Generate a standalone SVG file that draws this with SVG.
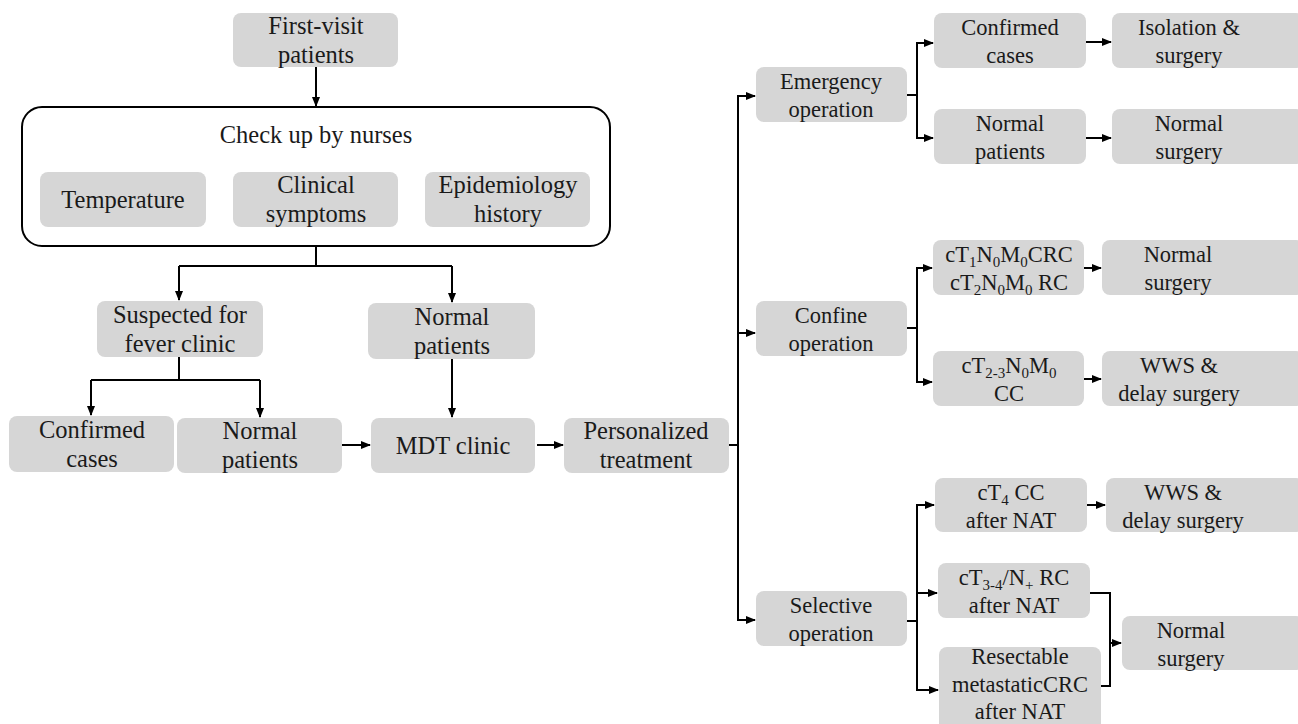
<svg xmlns="http://www.w3.org/2000/svg" width="1298" height="724" viewBox="0 0 1298 724">
<style>
.b{fill:#d6d6d6;stroke:none}
text{font-size:22.5px;fill:#1a1a1a;text-anchor:middle}
text.L{font-size:24.5px}
.s{font-size:15px}
.c{fill:none;stroke:#000;stroke-width:2}
</style>
<defs>
<marker id="a" markerUnits="userSpaceOnUse" markerWidth="10" markerHeight="10" viewBox="0 0 10 10" refX="9" refY="5" orient="auto">
<path d="M0,1 L10,5 L0,9 Z" fill="#000"/>
</marker>
</defs>
<rect width="1298" height="724" fill="#fff"/>
<g id="connectors">
<path class="c" d="M316,67 V106" marker-end="url(#a)"/>
<path class="c" d="M316,246 V266 M179,266 H452"/>
<path class="c" d="M179,266 V300" marker-end="url(#a)"/>
<path class="c" d="M452,266 V302" marker-end="url(#a)"/>
<path class="c" d="M179,357 V380 M91,380 H260"/>
<path class="c" d="M91,380 V415" marker-end="url(#a)"/>
<path class="c" d="M260,380 V417" marker-end="url(#a)"/>
<path class="c" d="M452,359 V417" marker-end="url(#a)"/>
<path class="c" d="M342,445 H370" marker-end="url(#a)"/>
<path class="c" d="M537,445 H563" marker-end="url(#a)"/>
<path class="c" d="M729,445 H738 M738,95 V621"/>
<path class="c" d="M737,96 H755" marker-end="url(#a)"/>
<path class="c" d="M737,333 H755" marker-end="url(#a)"/>
<path class="c" d="M737,620 H755" marker-end="url(#a)"/>
<path class="c" d="M907,95 H917 M917,42 V139"/>
<path class="c" d="M916,43 H933" marker-end="url(#a)"/>
<path class="c" d="M916,138 H933" marker-end="url(#a)"/>
<path class="c" d="M1086,42 H1111" marker-end="url(#a)"/>
<path class="c" d="M1086,138 H1111" marker-end="url(#a)"/>
<path class="c" d="M907,328 H917 M917,267 V383"/>
<path class="c" d="M916,268 H932" marker-end="url(#a)"/>
<path class="c" d="M916,382 H932" marker-end="url(#a)"/>
<path class="c" d="M1084,268 H1101" marker-end="url(#a)"/>
<path class="c" d="M1084,379 H1101" marker-end="url(#a)"/>
<path class="c" d="M907,621 H917 M917,504 V691"/>
<path class="c" d="M916,505 H934" marker-end="url(#a)"/>
<path class="c" d="M916,593 H937" marker-end="url(#a)"/>
<path class="c" d="M916,690 H938" marker-end="url(#a)"/>
<path class="c" d="M1087,505 H1105" marker-end="url(#a)"/>
<path class="c" d="M1090,593 H1110 V686 H1101"/>
<path class="c" d="M1110,643 H1121" marker-end="url(#a)"/>
</g>
<g id="nodes" style="font-family:'Times New Roman','Liberation Serif',serif">
<g id="first-visit"><rect class="b" x="233" y="13" width="165" height="54" rx="8"/><text class="L" x="316" y="33.5">First-visit</text><text class="L" x="316" y="62.5">patients</text></g>
<g id="checkup"><rect x="22" y="107" width="588" height="139" rx="20" fill="#fff" stroke="#000" stroke-width="2"/><text class="L" x="316" y="143">Check up by nurses</text></g>
<g id="temperature"><rect class="b" x="40" y="172" width="166" height="55" rx="8"/><text class="L" x="123" y="208">Temperature</text></g>
<g id="clinical"><rect class="b" x="233" y="172" width="165" height="55" rx="8"/><text class="L" x="316" y="193">Clinical</text><text class="L" x="316" y="222">symptoms</text></g>
<g id="epidemiology"><rect class="b" x="425" y="172" width="165" height="55" rx="8"/><text class="L" x="508" y="193">Epidemiology</text><text class="L" x="508" y="222">history</text></g>
<g id="suspected"><rect class="b" x="97" y="301" width="166" height="56" rx="8"/><text class="L" x="180" y="322.5">Suspected for</text><text class="L" x="180" y="351.5">fever clinic</text></g>
<g id="normal-mid"><rect class="b" x="368" y="303" width="167" height="56" rx="8"/><text class="L" x="452" y="324.5">Normal</text><text class="L" x="452" y="353.5">patients</text></g>
<g id="confirmed-left"><rect class="b" x="9" y="416" width="165" height="56" rx="8"/><text class="L" x="92" y="437.5">Confirmed</text><text class="L" x="92" y="466.5">cases</text></g>
<g id="normal-left"><rect class="b" x="177" y="418" width="165" height="55" rx="8"/><text class="L" x="260" y="439">Normal</text><text class="L" x="260" y="468">patients</text></g>
<g id="mdt"><rect class="b" x="371" y="418" width="164" height="55" rx="8"/><text class="L" x="453" y="454">MDT clinic</text></g>
<g id="personalized"><rect class="b" x="564" y="418" width="165" height="55" rx="8"/><text class="L" x="646" y="439">Personalized</text><text class="L" x="646" y="468">treatment</text></g>
<g id="emergency"><rect class="b" x="756" y="67" width="151" height="55" rx="8"/><text x="831" y="89">Emergency</text><text x="831" y="117">operation</text></g>
<g id="confirmed-right"><rect class="b" x="934" y="13" width="152" height="55" rx="8"/><text x="1010" y="35">Confirmed</text><text x="1010" y="63">cases</text></g>
<g id="normal-right"><rect class="b" x="934" y="109" width="152" height="55" rx="8"/><text x="1010" y="131">Normal</text><text x="1010" y="159">patients</text></g>
<g id="isolation"><rect class="b" x="1112" y="13" width="192" height="55" rx="8"/><text x="1189" y="35">Isolation &amp;</text><text x="1189" y="63">surgery</text></g>
<g id="normal-surgery-1"><rect class="b" x="1112" y="109" width="192" height="55" rx="8"/><text x="1189" y="131">Normal</text><text x="1189" y="159">surgery</text></g>
<g id="confine"><rect class="b" x="756" y="301" width="151" height="55" rx="8"/><text x="831" y="323">Confine</text><text x="831" y="351">operation</text></g>
<g id="ct1"><rect class="b" x="933" y="240" width="151" height="55" rx="8"/><text x="1009" y="262">cT<tspan class="s" dy="5">1</tspan><tspan dy="-5">N</tspan><tspan class="s" dy="5">0</tspan><tspan dy="-5">M</tspan><tspan class="s" dy="5">0</tspan><tspan dy="-5">CRC</tspan></text><text x="1009" y="290">cT<tspan class="s" dy="5">2</tspan><tspan dy="-5">N</tspan><tspan class="s" dy="5">0</tspan><tspan dy="-5">M</tspan><tspan class="s" dy="5">0</tspan><tspan dy="-5"> RC</tspan></text></g>
<g id="normal-surgery-2"><rect class="b" x="1102" y="240" width="202" height="55" rx="8"/><text x="1178" y="262">Normal</text><text x="1178" y="290">surgery</text></g>
<g id="ct23"><rect class="b" x="933" y="351" width="151" height="55" rx="8"/><text x="1009" y="373">cT<tspan class="s" dy="5">2-3</tspan><tspan dy="-5">N</tspan><tspan class="s" dy="5">0</tspan><tspan dy="-5">M</tspan><tspan class="s" dy="5">0</tspan></text><text x="1009" y="401">CC</text></g>
<g id="wws-1"><rect class="b" x="1102" y="351" width="202" height="55" rx="8"/><text x="1179" y="373">WWS &amp;</text><text x="1179" y="401">delay surgery</text></g>
<g id="selective"><rect class="b" x="756" y="591" width="151" height="55" rx="8"/><text x="831" y="613">Selective</text><text x="831" y="641">operation</text></g>
<g id="ct4"><rect class="b" x="935" y="478" width="152" height="54" rx="8"/><text x="1011" y="500">cT<tspan class="s" dy="5">4</tspan><tspan dy="-5"> CC</tspan></text><text x="1011" y="528">after NAT</text></g>
<g id="wws-2"><rect class="b" x="1106" y="478" width="198" height="54" rx="8"/><text x="1183" y="500">WWS &amp;</text><text x="1183" y="528">delay surgery</text></g>
<g id="ct34"><rect class="b" x="938" y="563" width="152" height="55" rx="8"/><text x="1014" y="585">cT<tspan class="s" dy="5">3-4</tspan><tspan dy="-5">/N</tspan><tspan class="s" dy="5">+</tspan><tspan dy="-5"> RC</tspan></text><text x="1014" y="613">after NAT</text></g>
<g id="resectable"><rect class="b" x="939" y="647" width="162" height="90" rx="8"/><text x="1020" y="664">Resectable</text><text x="1020" y="692">metastaticCRC</text><text x="1020" y="719">after NAT</text></g>
<g id="normal-surgery-3"><rect class="b" x="1122" y="616" width="182" height="54" rx="8"/><text x="1191" y="638">Normal</text><text x="1191" y="666">surgery</text></g>
</g>
</svg>
